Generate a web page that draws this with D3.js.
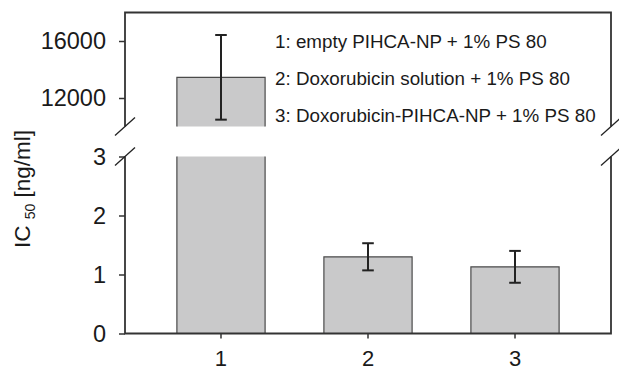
<!DOCTYPE html>
<html>
<head>
<meta charset="utf-8">
<script src="https://cdn.jsdelivr.net/npm/d3@7"></script>
<style>
  html, body { margin: 0; padding: 0; background: #fff; }
  svg { display: block; font-family: "Liberation Sans", Arial, sans-serif; }
</style>
</head>
<body>
<svg id="chart" width="619" height="371"></svg>
<script>
// ---- data ----
const categories = ["1", "2", "3"];
const values = [13450, 1.3, 1.13];
const errors = [2970, 0.23, 0.27];
const upperTicks = [12000, 16000];
const lowerTicks = [0, 1, 2, 3];
const legendLines = [
  "1: empty PIHCA-NP + 1% PS 80",
  "2: Doxorubicin solution + 1% PS 80",
  "3: Doxorubicin-PIHCA-NP + 1% PS 80"
];
const upperDomain = [10000, 18000];
const lowerDomain = [0, 3];

// ---- layout ----
const svg = d3.select("#chart");
const left = 125, right = 611;
const upTop = 12.5, upBot = 126.5;
const loTop = 156.5, loBot = 333.5;
const axisColor = "#333";
const barFill = "#c9c9ca";
const barStroke = "#4a4a4a";
const textColor = "#1a1a1a";

const x = d3.scaleBand().domain(categories).range([left, right])
  .paddingInner(0.4).paddingOuter(0.353);
const yU = d3.scaleLinear().domain(upperDomain).range([upBot, upTop]);
const yL = d3.scaleLinear().domain(lowerDomain).range([loBot, loTop]);

function panelOf(v) { return v > lowerDomain[1] ? "upper" : "lower"; }

// ---- bars ----
const gBars = svg.append("g");
categories.forEach((c, i) => {
  const v = values[i];
  const x0 = x(c), x1 = x(c) + x.bandwidth();
  if (panelOf(v) === "lower") {
    const yt = yL(v);
    gBars.append("rect").attr("x", x0).attr("y", yt).attr("width", x1 - x0)
      .attr("height", loBot - yt).attr("fill", barFill);
    gBars.append("path").attr("d", `M${x0},${loBot}V${yt}H${x1}V${loBot}`)
      .attr("fill", "none").attr("stroke", barStroke).attr("stroke-width", 1.2);
  } else {
    gBars.append("rect").attr("x", x0).attr("y", loTop).attr("width", x1 - x0)
      .attr("height", loBot - loTop).attr("fill", barFill);
    gBars.append("path").attr("d", `M${x0},${loBot}V${loTop}M${x1},${loTop}V${loBot}`)
      .attr("fill", "none").attr("stroke", barStroke).attr("stroke-width", 1.2);
    const yt = yU(v);
    gBars.append("rect").attr("x", x0).attr("y", yt).attr("width", x1 - x0)
      .attr("height", upBot - yt).attr("fill", barFill);
    gBars.append("path").attr("d", `M${x0},${upBot}V${yt}H${x1}V${upBot}`)
      .attr("fill", "none").attr("stroke", barStroke).attr("stroke-width", 1.2);
  }
});

// ---- error bars ----
const gErr = svg.append("g").attr("stroke", "#222").attr("stroke-width", 2).attr("fill", "none");
const capHalf = 5.8;
categories.forEach((c, i) => {
  const v = values[i], e = errors[i];
  const cx = x(c) + x.bandwidth() / 2;
  const sc = panelOf(v) === "upper" ? yU : yL;
  const ya = sc(v + e), yb = sc(v - e);
  gErr.append("line").attr("x1", cx).attr("x2", cx).attr("y1", ya).attr("y2", yb);
  gErr.append("line").attr("x1", cx - capHalf).attr("x2", cx + capHalf).attr("y1", ya).attr("y2", ya);
  gErr.append("line").attr("x1", cx - capHalf).attr("x2", cx + capHalf).attr("y1", yb).attr("y2", yb);
});

// ---- axes ----
const axU = d3.axisLeft(yU).tickValues(upperTicks).tickSize(6).tickPadding(13).tickFormat(d3.format("d"));
const axL = d3.axisLeft(yL).tickValues(lowerTicks).tickSize(6).tickPadding(13).tickFormat(d3.format("d"));
const axX = d3.axisBottom(x).tickSize(5).tickPadding(12);

function styleAxis(g, size) {
  g.select(".domain").remove();
  g.selectAll(".tick line").attr("stroke", axisColor).attr("stroke-width", 1.5);
  g.selectAll(".tick text").attr("fill", textColor).style("font-size", size + "px")
    .style("font-family", '"Liberation Sans", Arial, sans-serif');
}
svg.append("g").attr("transform", `translate(${left},0)`).call(axU).call(styleAxis, 23.5);
svg.append("g").attr("transform", `translate(${left},0)`).call(axL).call(styleAxis, 23.5);
svg.append("g").attr("transform", `translate(0,${loBot})`).call(axX).call(styleAxis, 22);

// frame lines
const gFrame = svg.append("g").attr("stroke", axisColor).attr("fill", "none").attr("stroke-width", 1.8);
gFrame.append("path").attr("d", `M${left},${upBot}V${upTop}H${right}V${upBot}`);
gFrame.append("path").attr("d", `M${left},${loTop}V${loBot}H${right}V${loTop}`);

// break marks
const gBreak = svg.append("g").attr("stroke", "#222").attr("stroke-width", 1.3);
[left, right].forEach(bx => {
  [upBot, loTop].forEach(by => {
    gBreak.append("line").attr("x1", bx - 10).attr("y1", by + 9).attr("x2", bx + 10).attr("y2", by - 9);
  });
});

// ---- legend ----
const legendY = [47.7, 85, 121.7];
svg.append("g").selectAll("text").data(legendLines).join("text")
  .attr("x", 275).attr("y", (d, i) => legendY[i])
  .attr("fill", textColor).style("font-size", "18.8px").text(d => d);

// ---- y title ----
const title = svg.append("text").attr("transform", "translate(30,189) rotate(-90)")
  .attr("text-anchor", "middle").attr("fill", textColor).style("font-size", "22.5px");
title.append("tspan").text("IC ");
title.append("tspan").style("font-size", "14px").attr("dy", "5").text("50");
title.append("tspan").attr("dy", "-5").text(" [ng/ml]");
</script>
</body>
</html>
